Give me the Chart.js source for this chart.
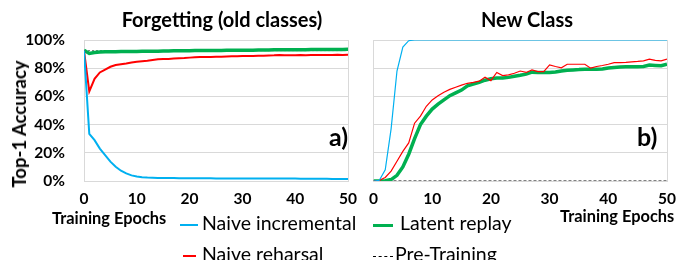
<!DOCTYPE html>
<html>
<head>
<meta charset="utf-8">
<script src="https://cdn.jsdelivr.net/npm/chart.js@4"></script>
<style>
  body { margin: 0; width: 689px; height: 260px; overflow: hidden; background: #fff; font-family: Lato, "Open Sans", sans-serif; }
  .box { position: absolute; top: 0; height: 260px; }
  .txt { position: absolute; white-space: nowrap; color: #000; }
  .bold { font-weight: bold; }
  .mark { display: inline-block; width: 18px; vertical-align: middle; margin-right: 4px; }
</style>
</head>
<body>
<div class="box" style="left:0;width:366px"><canvas id="oldChart"></canvas></div>
<div class="box" style="left:360px;width:329px"><canvas id="newChart"></canvas></div>

<div class="txt bold" style="left:222px;top:7px;font-size:20px;transform:translateX(-50%)">Forgetting (old classes)</div>
<div class="txt bold" style="left:527px;top:7px;font-size:20px;transform:translateX(-50%)">New Class</div>
<div class="txt bold" style="left:19px;top:124px;font-size:18.5px;transform:translate(-50%,-50%) rotate(-90deg)">Top-1 Accuracy</div>
<div class="txt bold" style="left:329px;top:121px;font-size:25px">a)</div>
<div class="txt bold" style="left:637px;top:121px;font-size:25px">b)</div>
<div class="txt bold" style="left:52px;top:208px;font-size:16.4px">Training Epochs</div>
<div class="txt bold" style="left:560px;top:206px;font-size:16.4px">Training Epochs</div>

<div class="txt" style="left:180px;top:211px;font-size:19.5px"><span class="mark" style="border-top:2px solid #00b0f0"></span>Naive incremental</div>
<div class="txt" style="left:180px;top:242px;font-size:19.5px"><span class="mark" style="border-top:2px solid #ff0000;width:13px;margin-left:3px;margin-right:6px"></span>Naive reharsal</div>
<div class="txt" style="left:373px;top:211px;font-size:19.5px"><span class="mark" style="border-top:3px solid #00b050;width:20px;margin-right:7px"></span>Latent replay</div>
<div class="txt" style="left:373px;top:242px;font-size:19.5px"><span class="mark" style="border-top:1px dashed #000;width:20px;margin-right:2px"></span>Pre-Training</div>

<script>
// epochs 0..50
const epochs = [0, 1, 2, 3, 4, 5, 6, 7, 8, 9, 10, 11, 12, 13, 14, 15, 16, 17, 18, 19, 20,
  21, 22, 23, 24, 25, 26, 27, 28, 29, 30, 31, 32, 33, 34, 35, 36, 37, 38, 39, 40,
  41, 42, 43, 44, 45, 46, 47, 48, 49, 50];
const preEpochs = [0, 50];

// Forgetting (old classes)
const oldNaive = [92.5, 33.5, 29, 23, 18.4, 13.7, 10.1, 7.3, 5.4, 4, 3.2, 2.7, 2.4, 2.3, 2.2, 2.2, 2.1, 2.1, 2.0, 2.0, 2.0,
  1.9, 1.9, 1.9, 1.9, 1.8, 1.8, 1.8, 1.8, 1.8, 1.7, 1.7, 1.7, 1.7, 1.7, 1.7, 1.7, 1.7, 1.7, 1.7, 1.7,
  1.6, 1.6, 1.6, 1.6, 1.6, 1.6, 1.5, 1.5, 1.5, 1.5];
const oldRehearsal = [92.5, 63.5, 72.5, 77, 79, 81, 82.2, 82.8, 83.4, 84.1, 84.6, 85, 85.3, 85.8, 86.3, 86.5, 86.6, 86.8, 87, 87.2, 87.5,
  87.8, 88, 88, 88, 88.1, 88.2, 88.3, 88.4, 88.5, 88.6, 88.7, 88.7, 88.8, 88.9, 89, 89.1, 89.3, 89.2, 89.1, 89.2,
  89.3, 89.2, 89.3, 89.3, 89.4, 89.3, 89.4, 89.5, 89.3, 89.6];
const oldLatent = [92.8, 90.5, 91.2, 91.5, 91.6, 91.7, 91.7, 91.8, 91.8, 91.9, 91.9, 92.0, 92.0, 92.1, 92.1, 92.2, 92.2, 92.3, 92.3, 92.4, 92.4,
  92.5, 92.5, 92.5, 92.6, 92.6, 92.6, 92.7, 92.7, 92.7, 92.8, 92.8, 92.8, 92.9, 92.9, 92.9, 93.0, 93.0, 93.0, 93.0, 93.1,
  93.1, 93.1, 93.2, 93.2, 93.2, 93.2, 93.3, 93.3, 93.3, 93.4];
const oldPre = [92.5, 92.5];

// New class
const newNaive = [0, 0.5, 8, 37, 78, 95, 99.5, 100, 100, 100, 100, 100, 100, 100, 100, 100, 100, 100, 100, 100, 100,
  100, 100, 100, 100, 100, 100, 100, 100, 100, 100, 100, 100, 100, 100, 100, 100, 100, 100, 100, 100,
  100, 100, 100, 100, 100, 100, 100, 100, 100, 100];
const newRehearsal = [0, 0.5, 2.5, 7, 14, 21, 27, 41, 46, 53, 57.5, 60.5, 63, 65, 66.5, 68, 69.3, 70, 70.8, 73.6, 71.2,
  77, 74.8, 75.3, 76.4, 78, 77, 78.8, 77.6, 77.6, 82.4, 81.2, 80.3, 82.8, 82.8, 82.8, 82.8, 80, 81.2, 81.9, 82.8,
  84, 84, 84.2, 84.5, 84.8, 85.2, 86.4, 85.5, 85.2, 86.4];
const newLatent = [0, 0, 0.2, 1, 4, 10, 19, 30, 40, 46, 51, 54.5, 57.5, 60.5, 62.5, 64.5, 67.5, 68.7, 70, 71.5, 72.5,
  73, 73, 73.5, 74.3, 75, 75.8, 77.2, 77, 77, 77, 77.3, 78, 78.5, 78.8, 79, 79.3, 79.3, 79.3, 79.5, 80.2,
  80.5, 80.8, 81, 81, 81, 81.2, 82.2, 82, 81.7, 82.8];
const newPre = [0, 0];

const yTicks = [0, 20, 40, 60, 80, 100];

const gridColor = "#d9d9d9";
const tickFont = { family: "Lato, 'Open Sans', sans-serif", weight: "bold", size: 15.5 };

function points(xs, ys) {
  return xs.map((x, i) => ({ x: x, y: ys[i] }));
}

function line(xs, ys, color, width, dash) {
  return {
    data: points(xs, ys),
    borderColor: color,
    borderWidth: width,
    borderDash: dash || [],
    pointRadius: 0,
    tension: 0,
    fill: false,
  };
}

function makeChart(id, datasets, showLabels, yWidth, padRight) {
  return new Chart(document.getElementById(id), {
    type: "line",
    data: { datasets: datasets },
    options: {
      responsive: true,
      maintainAspectRatio: false,
      animation: false,
      layout: { padding: { top: 40, right: padRight, bottom: 0, left: 0 } },
      plugins: { legend: { display: false }, tooltip: { enabled: false } },
      scales: {
        x: {
          type: "linear",
          min: 0,
          max: 50,
          ticks: { stepSize: 10, color: "#000", font: tickFont, padding: 9, maxRotation: 0 },
          grid: {
            drawTicks: false,
            color: ctx => (ctx.tick && ctx.tick.value === 50 ? gridColor : "rgba(0,0,0,0)"),
          },
          border: { display: true, color: gridColor },
          afterFit: s => { s.height = 79; },
        },
        y: {
          min: 0,
          max: 100,
          afterBuildTicks: s => { s.ticks = yTicks.map(v => ({ value: v })); },
          ticks: {
            display: showLabels,
            color: "#000",
            font: tickFont,
            padding: 19,
            callback: v => v + "%",
          },
          grid: { drawTicks: false, color: gridColor },
          border: { display: true, color: gridColor },
          afterFit: s => { s.width = yWidth; },
        },
      },
    },
  });
}

makeChart("oldChart", [
  line(epochs, oldNaive, "#00b0f0", 2),
  line(epochs, oldRehearsal, "#ff0000", 2),
  line(epochs, oldLatent, "#00b050", 3.5),
  line(preEpochs, oldPre, "rgba(60,60,60,0.7)", 1, [2, 2]),
], true, 84, 13);

makeChart("newChart", [
  line(epochs, newNaive, "#00b0f0", 1.2),
  line(epochs, newRehearsal, "#ff0000", 1.2),
  line(epochs, newLatent, "#00b050", 3.5),
  line(preEpochs, newPre, "#000", 1, [3, 2]),
], false, 12, 22);
</script>
</body>
</html>
